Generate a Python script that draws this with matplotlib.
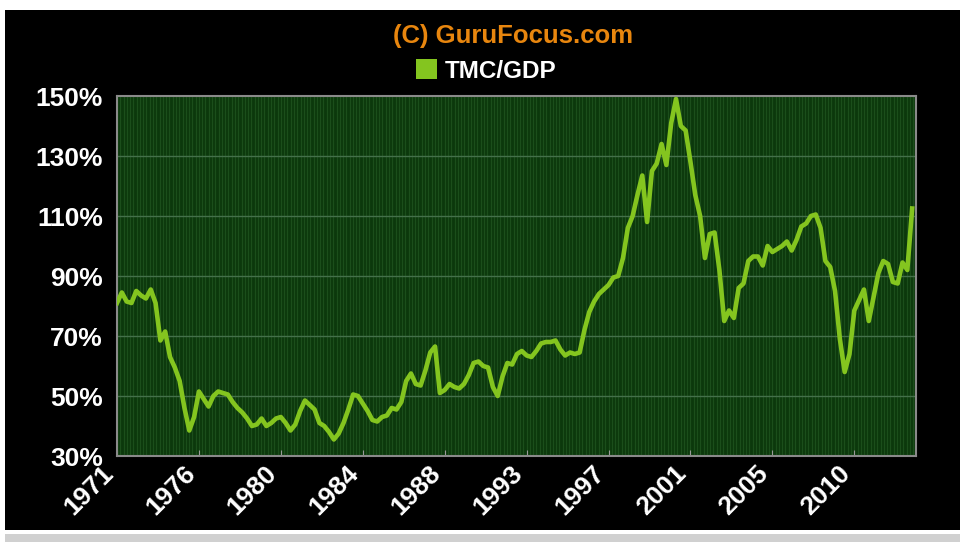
import numpy as np
import matplotlib
matplotlib.use("Agg")
import matplotlib.pyplot as plt
import matplotlib.transforms as mtransforms
from matplotlib.patches import Rectangle, Patch

# --- data: TMC/GDP in %, one value per quarter starting 1971 Q4 ---
tmc_gdp = [
    81, 84.5, 81.5, 81, 85, 83.5, 82.5, 85.5, 81, 68.5,
    71.5, 63, 59.5, 55, 46, 38.5, 43, 51.5, 49, 46.5,
    50, 51.5, 51, 50.5, 48, 46, 44.5, 42.5, 40, 40.5,
    42.5, 40, 41, 42.5, 43, 41, 38.5, 40.5, 45, 48.5,
    47, 45.5, 41, 40, 38, 35.5, 37.5, 41, 45.5, 50.5,
    50, 47.5, 45, 42, 41.5, 43, 43.5, 46, 45.5, 48,
    55, 57.5, 54, 53.5, 58.5, 64.5, 66.5, 51, 52, 54,
    53, 52.5, 54, 57, 61, 61.5, 60, 59.5, 53, 50,
    56.5, 61, 60.5, 64, 65, 63.5, 63, 65, 67.5, 68,
    68, 68.5, 65.5, 63.5, 64.5, 64, 64.5, 72, 78, 81.5,
    84, 85.5, 87, 89.5, 90, 96, 106, 110, 117, 123.5,
    108, 125, 127.5, 134, 127, 141, 149, 140, 138.5, 128,
    117, 110, 96, 104, 104.5, 92, 75, 78.5, 76, 86,
    87.5, 95, 96.5, 96.5, 93.5, 100, 98, 99, 100, 101.5,
    98.5, 102, 106.5, 107.5, 110, 110.5, 106, 95, 93, 85,
    69, 58, 64, 78.5, 82, 85.5, 75, 83, 91, 95,
    94, 88, 87.5, 94.5, 92, 112.5,
]
tick_labels = ["1971", "1976", "1980", "1984", "1988",
               "1993", "1997", "2001", "2005", "2010"]
label_every = 17          # quarters between two labels
y_ticks = [30, 50, 70, 90, 110, 130, 150]

# --- colours ---
LINE = "#84c51f"
FACE = "#0b380c"
VGRID = "#1b4e1b"
HGRID = "#44704a"
ORANGE = "#e8860e"

x = np.arange(len(tmc_gdp))

plt.rcParams["font.family"] = ["Liberation Sans", "DejaVu Sans"]
fig = plt.figure(figsize=(9.67, 5.42), dpi=100, facecolor="white")

# black panel behind everything + light strip at the bottom
fig.patches.append(Rectangle((5 / 967, 12 / 542), 955 / 967, 520 / 542,
                             transform=fig.transFigure, facecolor="black",
                             edgecolor="none", zorder=-10))
fig.patches.append(Rectangle((5 / 967, 0), 955 / 967, 8 / 542,
                             transform=fig.transFigure, facecolor="#d0d0d0",
                             edgecolor="none", zorder=-10))

ax = fig.add_axes([117 / 967, 1 - 456 / 542, 799 / 967, 360 / 542])
ax.set_zorder(1)
ax.set_facecolor(FACE)

# dense vertical stripes of the plot area
ax.vlines(np.arange(0, len(tmc_gdp), 0.68), 30, 150, color=VGRID, lw=0.9, zorder=1)
for yv in y_ticks[1:-1]:
    ax.axhline(yv, color=HGRID, lw=1.0, zorder=2)

ax.plot(x, tmc_gdp, color=LINE, lw=3.3, solid_joinstyle="round", zorder=3)

ax.set_xlim(0, 165.8)
ax.set_ylim(30, 150)

ax.set_yticks(y_ticks)
ax.set_yticklabels([f"{v}%" for v in y_ticks], color="white",
                   fontsize=19, fontweight="bold")
ax.tick_params(axis="y", length=0, pad=10)

# x ticks: marks on the axis, labels drawn by hand so they can sit a bit left
tick_pos = np.arange(len(tick_labels)) * label_every
ax.set_xticks(tick_pos)
ax.set_xticklabels([])
ax.tick_params(axis="x", direction="in", length=4, color="#9a9a9a")
lab_tr = mtransforms.offset_copy(ax.get_xaxis_transform(), fig=fig,
                                 x=-16, y=-5, units="dots")
for pos, lab in zip(tick_pos, tick_labels):
    ax.text(pos, 0, lab, transform=lab_tr, rotation=45, rotation_mode="anchor",
            ha="right", va="top", color="white", fontsize=19,
            fontweight="bold", clip_on=False)

for sp in ax.spines.values():
    sp.set_color("#8a8a8a")
    sp.set_linewidth(1.5)

fig.text(0.531, 1 - 36 / 542, "(C) GuruFocus.com", color=ORANGE, fontsize=18.5,
         fontweight="bold", ha="center", va="center")
leg = fig.legend(handles=[Patch(facecolor=LINE, edgecolor="none", label="TMC/GDP")],
                 loc="center", bbox_to_anchor=(0.503, 1 - 71 / 542), frameon=False,
                 handlelength=0.85, handleheight=0.9, handletextpad=0.35,
                 prop={"size": 17.5, "weight": "bold"})
for t in leg.get_texts():
    t.set_color("white")

fig.savefig("out.png", dpi=100, facecolor=fig.get_facecolor())
